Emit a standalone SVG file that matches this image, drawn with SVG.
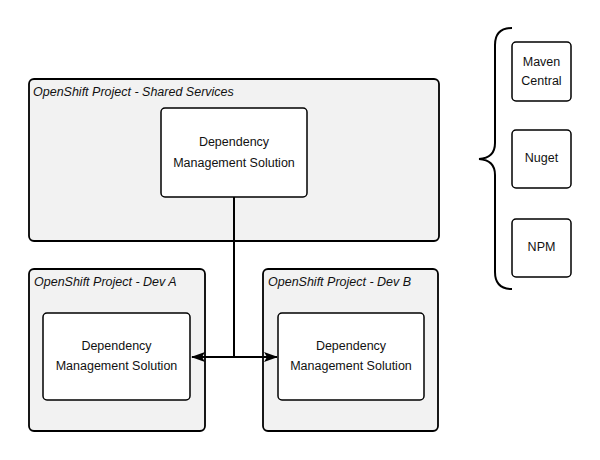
<svg xmlns="http://www.w3.org/2000/svg" width="600" height="460" viewBox="0 0 600 460">
<defs>
<style>
.container{fill:#f2f2f2;stroke:#000;stroke-width:1.8}
.box{fill:#fff;stroke:#000;stroke-width:1.5}
.title{font-family:"Liberation Sans",Arial,sans-serif;font-style:italic;font-size:12.5px;fill:#111}
.lbl{font-family:"Liberation Sans",Arial,sans-serif;font-size:12.5px;fill:#111;text-anchor:middle}
.edge{fill:none;stroke:#000;stroke-width:2}
</style>
<marker id="arr" viewBox="0 0 14 10" refX="13" refY="5" markerWidth="14" markerHeight="11" markerUnits="userSpaceOnUse" orient="auto-start-reverse">
<path d="M0,0 L14,5 L0,10 L3,5 Z" fill="#000"/>
</marker>
</defs>
<rect width="600" height="460" fill="#fff"/>
<g id="shared">
<rect class="container" x="29" y="79" width="410" height="162" rx="5"/>
<text class="title" x="33" y="96">OpenShift Project - Shared Services</text>
</g>
<g id="shared-dms">
<rect class="box" x="161" y="108" width="146" height="89" rx="4"/>
<text class="lbl" x="234" y="146">Dependency</text>
<text class="lbl" x="234" y="167">Management Solution</text>
</g>
<g id="devA">
<rect class="container" x="29" y="269" width="176" height="162" rx="5"/>
<text class="title" x="34" y="286">OpenShift Project - Dev A</text>
</g>
<g id="devA-dms">
<rect class="box" x="43" y="313" width="147" height="87" rx="4"/>
<text class="lbl" x="116.5" y="350">Dependency</text>
<text class="lbl" x="116.5" y="370">Management Solution</text>
</g>
<g id="devB">
<rect class="container" x="263" y="269" width="175" height="162" rx="5"/>
<text class="title" x="268" y="286">OpenShift Project - Dev B</text>
</g>
<g id="devB-dms">
<rect class="box" x="278" y="313" width="146" height="87" rx="4"/>
<text class="lbl" x="351" y="350">Dependency</text>
<text class="lbl" x="351" y="370">Management Solution</text>
</g>
<g id="maven">
<rect class="box" x="512" y="42" width="59" height="59" rx="4"/>
<text class="lbl" x="541.5" y="66">Maven</text>
<text class="lbl" x="541.5" y="85">Central</text>
</g>
<g id="nuget">
<rect class="box" x="512" y="130" width="59" height="58" rx="4"/>
<text class="lbl" x="541.5" y="162">Nuget</text>
</g>
<g id="npm">
<rect class="box" x="512" y="219" width="59" height="58" rx="4"/>
<text class="lbl" x="541.5" y="251">NPM</text>
</g>
<g id="brace">
<path class="edge" d="M512,28 Q495,28 495,45 L495,143 Q495,158 479,159 Q495,160 495,175 L495,272 Q495,289 512,289"/>
</g>
<g id="connectors">
<path class="edge" d="M234,197 L234,357"/>
<path class="edge" d="M192,357 L277,357" marker-start="url(#arr)" marker-end="url(#arr)"/>
</g>
</svg>
